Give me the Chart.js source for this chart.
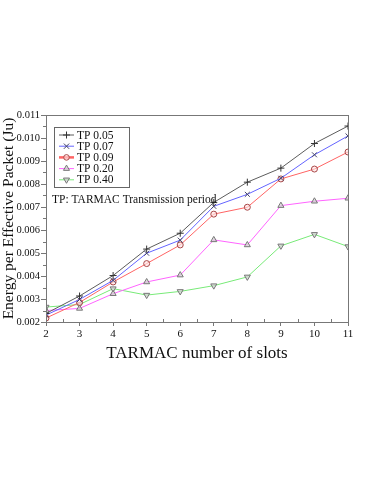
<!DOCTYPE html>
<html lang="en">
<head>
<meta charset="UTF-8">
<title>TARMAC energy per effective packet</title>
<script src="https://cdn.jsdelivr.net/npm/chart.js"></script>
<style>
  html, body { margin: 0; padding: 0; background: #fff; }
  #chart { display: block; }
</style>
</head>
<body>
<canvas id="chart" width="374" height="484" style="width:374px;height:484px"></canvas>
<script>
// data
const slots = [2, 3, 4, 5, 6, 7, 8, 9, 10, 11];
const tp005 = [0.00237, 0.00313, 0.00402, 0.00517, 0.00586, 0.00720, 0.00808, 0.00869, 0.00976, 0.01052];
const tp007 = [0.00230, 0.00298, 0.00381, 0.00499, 0.00556, 0.00703, 0.00755, 0.00825, 0.00927, 0.01009];
const tp009 = [0.00217, 0.00285, 0.00374, 0.00454, 0.00535, 0.00669, 0.00699, 0.00822, 0.00865, 0.00939];
const tp020 = [0.00250, 0.00259, 0.00323, 0.00374, 0.00404, 0.00557, 0.00535, 0.00706, 0.00725, 0.00738];
const tp040 = [0.00265, 0.00276, 0.00345, 0.00317, 0.00333, 0.00358, 0.00396, 0.00531, 0.00581, 0.00528];
const seriesLabels = ['TP 0.05', 'TP 0.07', 'TP 0.09', 'TP 0.20', 'TP 0.40'];
const noteText = 'TP: TARMAC Transmission period';
const xTitle = 'TARMAC number of slots';
const yTitle = 'Energy per Effective Packet (Ju)';

const serif = "'Liberation Serif', 'DejaVu Serif', serif";

function pts(arr) {
    return arr.map((v, i) => ({ x: slots[i], y: v }));
}

function ds(label, data, line, pointColor, fill, style, rot, r) {
    return {
        label: label,
        data: pts(data),
        borderColor: line,
        borderWidth: 1,
        pointStyle: style,
        pointRotation: rot || 0,
        pointRadius: r || 3.5,
        pointBorderColor: pointColor,
        pointBackgroundColor: fill,
        pointBorderWidth: 1,
        tension: 0,
        fill: false
    };
}

// draw a legend marker by hand
function marker(c, style, x, y, r, stroke, fill) {
    c.save();
    c.strokeStyle = stroke;
    c.fillStyle = fill;
    c.lineWidth = 1;
    c.beginPath();
    if (style === 'cross') {
        c.moveTo(x - r, y); c.lineTo(x + r, y);
        c.moveTo(x, y - r); c.lineTo(x, y + r);
        c.stroke();
    } else if (style === 'crossRot') {
        const d = r * 0.75;
        c.moveTo(x - d, y - d); c.lineTo(x + d, y + d);
        c.moveTo(x + d, y - d); c.lineTo(x - d, y + d);
        c.stroke();
    } else if (style === 'circle') {
        c.arc(x, y, r * 0.8, 0, Math.PI * 2);
        c.fill(); c.stroke();
    } else if (style === 'triangle') {
        c.moveTo(x, y - r); c.lineTo(x + r * 0.87, y + r * 0.5); c.lineTo(x - r * 0.87, y + r * 0.5);
        c.closePath(); c.fill(); c.stroke();
    } else {
        c.moveTo(x, y + r); c.lineTo(x + r * 0.87, y - r * 0.5); c.lineTo(x - r * 0.87, y - r * 0.5);
        c.closePath(); c.fill(); c.stroke();
    }
    c.restore();
}

const framePlugin = {
    id: 'frame',
    afterDraw(chart) {
        const c = chart.ctx;
        const a = chart.chartArea;
        const xs = chart.scales.x, ys = chart.scales.y;
        c.save();
        c.strokeStyle = '#777';
        c.lineWidth = 1;
        c.strokeRect(Math.round(a.left) + 0.5, Math.round(a.top) + 0.5,
            Math.round(a.right - a.left), Math.round(a.bottom - a.top));
        // minor ticks at half steps
        c.beginPath();
        for (let i = 0; i < slots.length - 1; i++) {
            const px = Math.round(xs.getPixelForValue(slots[i] + 0.5)) + 0.5;
            c.moveTo(px, a.bottom); c.lineTo(px, a.bottom - 3);
        }
        for (let v = 0.0025; v < 0.011; v += 0.001) {
            const py = Math.round(ys.getPixelForValue(v)) + 0.5;
            c.moveTo(a.left, py); c.lineTo(a.left - 3, py);
        }
        c.stroke();

        // legend box
        const lx = 54, ly = 127, lw = 75, lh = 60;
        c.fillStyle = '#fff';
        c.fillRect(lx, ly, lw, lh);
        c.strokeStyle = '#666';
        c.strokeRect(lx + 0.5, ly + 0.5, lw, lh);
        c.font = '11.5px ' + serif;
        c.textBaseline = 'middle';
        chart.data.datasets.forEach((d, i) => {
            const yy = ly + 8 + i * 11.2;
            c.strokeStyle = d.borderColor;
            c.lineWidth = i === 2 ? 2.5 : 1;
            c.beginPath();
            c.moveTo(lx + 5, yy); c.lineTo(lx + 20, yy);
            c.stroke();
            const st = d.pointRotation === 180 ? 'triangleDown' : d.pointStyle;
            marker(c, st, lx + 12.5, yy, 3.5, d.pointBorderColor, d.pointBackgroundColor);
            c.fillStyle = '#111';
            c.textAlign = 'left';
            c.fillText(d.label, lx + 23, yy + 0.5);
        });

        // note text
        c.font = '11.5px ' + serif;
        c.fillStyle = '#111';
        c.textAlign = 'left';
        c.fillText(noteText, 52, 200);
        c.restore();
    }
};

const chart = new Chart(document.getElementById('chart').getContext('2d'), {
    type: 'line',
    data: {
        datasets: [
            ds(seriesLabels[0], tp005, '#5c5c5c', '#333333', '#333333', 'cross'),
            ds(seriesLabels[1], tp007, '#6464ff', '#444466', '#444466', 'crossRot'),
            ds(seriesLabels[2], tp009, '#ff6464', '#a84848', 'rgba(255,225,225,0.6)', 'circle', 0, 3),
            ds(seriesLabels[3], tp020, '#ff64ff', '#777777', 'rgba(210,210,210,0.7)', 'triangle'),
            ds(seriesLabels[4], tp040, '#78ea78', '#777777', 'rgba(210,210,210,0.7)', 'triangle', 180)
        ]
    },
    options: {
        responsive: false,
        devicePixelRatio: 1,
        animation: false,
        layout: { padding: { left: 0, right: 26, top: 115, bottom: 120 } },
        plugins: {
            legend: { display: false },
            tooltip: { enabled: false }
        },
        scales: {
            x: {
                type: 'linear',
                min: 2,
                max: 11,
                afterFit(scale) { scale.height = 42; },
                ticks: {
                    stepSize: 1,
                    color: '#111',
                    padding: 2,
                    font: { family: serif, size: 11 }
                },
                grid: { drawOnChartArea: false, drawTicks: true, tickLength: 4, color: '#777' },
                border: { color: '#777' },
                title: {
                    display: true,
                    text: xTitle,
                    color: '#111',
                    padding: { top: 0, bottom: 0 },
                    font: { family: serif, size: 17 }
                }
            },
            y: {
                min: 0.002,
                max: 0.011,
                afterFit(scale) { scale.width = 46; },
                ticks: {
                    stepSize: 0.001,
                    color: '#111',
                    padding: 1,
                    font: { family: serif, size: 10.5 },
                    callback: v => v.toFixed(3)
                },
                grid: { drawOnChartArea: false, drawTicks: true, tickLength: 5, color: '#777' },
                border: { color: '#777' },
                title: {
                    display: true,
                    text: yTitle,
                    color: '#111',
                    padding: { top: 0, bottom: 0 },
                    font: { family: serif, size: 15.5 }
                }
            }
        }
    },
    plugins: [framePlugin]
});
</script>
</body>
</html>
